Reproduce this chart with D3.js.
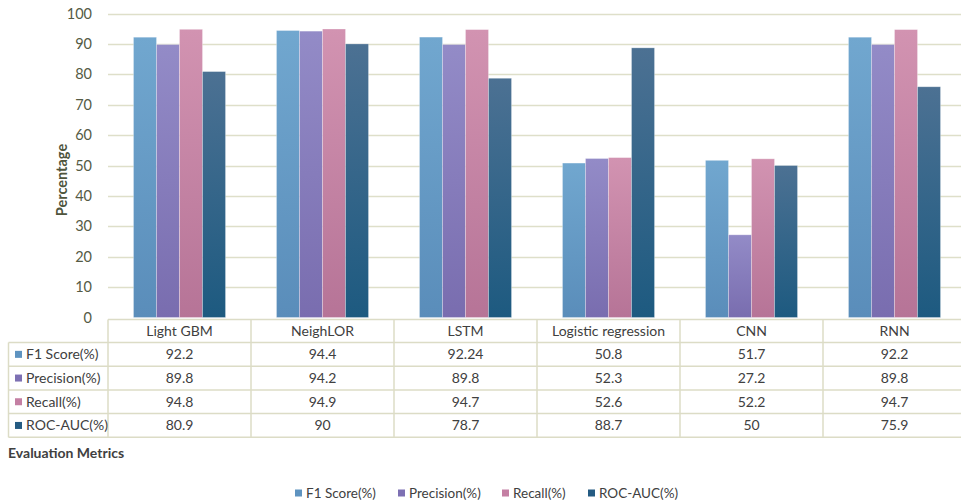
<!DOCTYPE html>
<html><head><meta charset="utf-8">
<script src="https://cdn.jsdelivr.net/npm/d3@7"></script>
<style>body{margin:0;background:#fff;overflow:hidden}svg{display:block}text{font-family:Lato,"Open Sans",sans-serif}</style>
</head><body>
<script>
const categories = ["Light GBM","NeighLOR","LSTM","Logistic regression","CNN","RNN"];
const seriesNames = ["F1 Score(%)","Precision(%)","Recall(%)","ROC-AUC(%)"];
const f1Score = [92.2, 94.4, 92.24, 50.8, 51.7, 92.2];
const precision = [89.8, 94.2, 89.8, 52.3, 27.2, 89.8];
const recall = [94.8, 94.9, 94.7, 52.6, 52.2, 94.7];
const rocAuc = [80.9, 90, 78.7, 88.7, 50, 75.9];
const yTicks = [0,10,20,30,40,50,60,70,80,90,100];
const seriesValues = [f1Score, precision, recall, rocAuc];
const colorsTop = ["#71a7cf","#938bc7","#d293b1","#4c7193"];
const colorsBot = ["#5a8dba","#796daf","#b67497","#1d5a80"];
const legendColors = ["#5e93c0","#7d70b3","#c47fa3","#245b82"];

const W=961,H=502;
const svg=d3.select("body").append("svg").attr("width",W).attr("height",H);
const defs=svg.append("defs");
seriesNames.forEach((s,i)=>{
  const g=defs.append("linearGradient").attr("id","g"+i).attr("x1",0).attr("x2",0).attr("y1",0).attr("y2",1);
  g.append("stop").attr("offset","0%").attr("stop-color",colorsTop[i]);
  g.append("stop").attr("offset","100%").attr("stop-color",colorsBot[i]);
});

const left=108, colW=143;
const x0=d3.scaleBand().domain(categories).range([left,left+colW*categories.length]);
const x1=d3.scaleBand().domain(seriesNames).range([0,x0.bandwidth()]).paddingOuter(1.108);
const y=d3.scaleLinear().domain([0,100]).range([317.5,13.5]);

const gridColor="#dedfc9";
svg.append("g").selectAll("line").data(yTicks.filter(d=>d>0)).join("line")
  .attr("x1",left).attr("x2",W).attr("y1",d=>Math.round(y(d))+0.5).attr("y2",d=>Math.round(y(d))+0.5)
  .attr("stroke",gridColor).attr("stroke-width",1.3);

const yAxis=d3.axisLeft(y).tickValues(yTicks).tickSize(0).tickPadding(0);
const ya=svg.append("g").attr("transform","translate(92,0)").call(yAxis);
ya.select(".domain").remove();
ya.selectAll("text").attr("font-size",14.5).attr("fill","#555b45").attr("font-family","Lato,sans-serif");

svg.append("text").attr("transform","translate(67,180) rotate(-90)").attr("text-anchor","middle")
  .attr("font-size",14.5).attr("font-weight","bold").attr("fill","#4f553d").text("Percentage");

const groups=svg.append("g").selectAll("g").data(categories).join("g")
  .attr("transform",d=>`translate(${x0(d)},0)`);
groups.selectAll("rect").data((c,ci)=>seriesNames.map((s,si)=>({s,si,v:seriesValues[si][ci]}))).join("rect")
  .attr("x",d=>x1(d.s)).attr("width",x1.bandwidth())
  .attr("y",d=>y(d.v)).attr("height",d=>y(0)-y(d.v))
  .attr("fill",d=>`url(#g${d.si})`).attr("stroke","rgba(255,255,255,0.35)").attr("stroke-width",0.8);

const tTop=319.5, hdrH=23, rowH=23.7, tLeft=8.5;
const rowY=i=>tTop+hdrH+i*rowH;
const tBottom=rowY(seriesNames.length);
const tbl=svg.append("g");
const lineColor="#dcdcc6";
tbl.append("line").attr("x1",left).attr("x2",W).attr("y1",tTop).attr("y2",tTop).attr("stroke",lineColor).attr("stroke-width",1.5);
d3.range(seriesNames.length+1).forEach(i=>{
  tbl.append("line").attr("x1",tLeft).attr("x2",W).attr("y1",rowY(i)).attr("y2",rowY(i)).attr("stroke",lineColor).attr("stroke-width",1.5);
});
tbl.append("line").attr("x1",tLeft).attr("x2",tLeft).attr("y1",rowY(0)).attr("y2",tBottom).attr("stroke",lineColor).attr("stroke-width",1.5);
d3.range(categories.length+1).forEach(i=>{
  const xx=left+i*colW;
  tbl.append("line").attr("x1",xx).attr("x2",xx).attr("y1",tTop).attr("y2",tBottom).attr("stroke",lineColor).attr("stroke-width",1.5);
});
tbl.selectAll("text.hdr").data(categories).join("text").attr("class","hdr")
  .attr("x",d=>x0(d)+x0.bandwidth()/2).attr("y",tTop+hdrH/2).attr("dy","0.35em")
  .attr("text-anchor","middle").attr("font-size",14).attr("fill","#404040").text(d=>d);
seriesNames.forEach((s,si)=>{
  const cy=rowY(si)+rowH/2;
  tbl.append("rect").attr("x",15).attr("y",cy-3.5).attr("width",7).attr("height",7).attr("fill",legendColors[si]);
  tbl.append("text").attr("x",26).attr("y",cy).attr("dy","0.35em").attr("font-size",14).attr("fill","#404040").text(s);
  categories.forEach((c,ci)=>{
    tbl.append("text").attr("x",x0(c)+x0.bandwidth()/2).attr("y",cy).attr("dy","0.35em")
      .attr("text-anchor","middle").attr("font-size",14).attr("fill","#404040").text(seriesValues[si][ci]);
  });
});

svg.append("text").attr("x",8).attr("y",458).attr("font-size",14).attr("font-weight","bold").attr("fill","#404040").text("Evaluation Metrics");

const legX=[295,398,502,588];
const leg=svg.append("g").selectAll("g").data(seriesNames).join("g").attr("transform",(d,i)=>`translate(${legX[i]},493)`);
leg.append("rect").attr("x",0).attr("y",-3.5).attr("width",7).attr("height",7).attr("fill",(d,i)=>legendColors[i]);
leg.append("text").attr("x",11).attr("y",0).attr("dy","0.35em").attr("font-size",13.5).attr("fill","#404040").text(d=>d);
</script>
</body></html>
